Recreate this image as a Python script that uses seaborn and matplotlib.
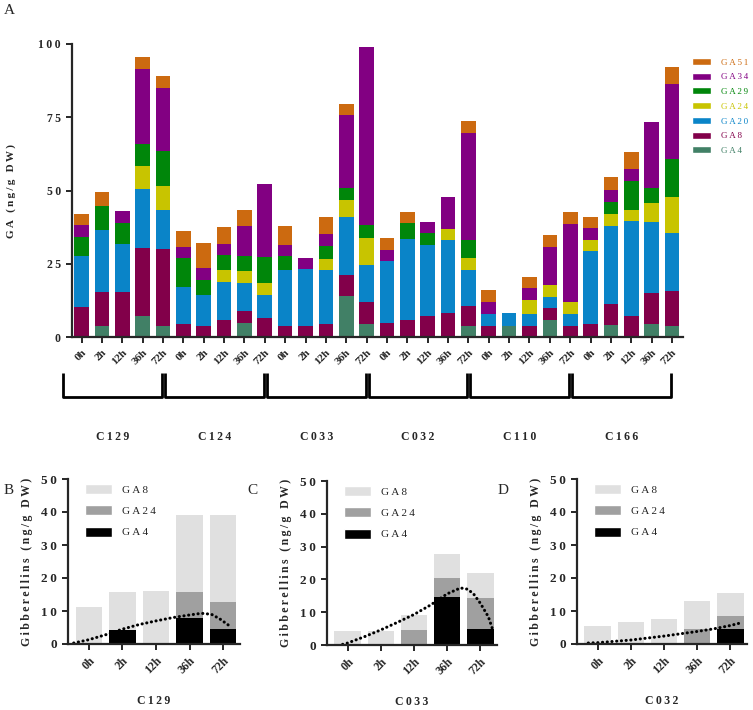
"""Stacked gibberellin content per accession and time point (panel A) plus GA4/GA24/GA8 detail panels (B-D)."""

import numpy as np
import pandas as pd
import matplotlib
matplotlib.use("Agg")
import matplotlib.pyplot as plt
from matplotlib.patches import Patch
from matplotlib.ticker import FixedLocator
import seaborn as sns

# ---- data ----
accessions = ["C129", "C124", "C033", "C032", "C110", "C166"]
times = ["0h", "2h", "12h", "36h", "72h"]
ga_order = ["GA4", "GA8", "GA20", "GA24", "GA29", "GA34", "GA51"]

# panel A, one value per bar (6 accessions x 5 times), ng/g DW
ga4 = [0, 3.8, 0, 7.2, 3.9,   0, 0, 0, 4.8, 0,   0, 0, 0, 13.9, 4.3,
       0, 0, 0, 0, 3.9,       0, 3.9, 0, 5.9, 0,   0, 4.0, 0, 4.5, 3.9]
ga8 = [10.3, 11.4, 15.5, 23.3, 26.3,   4.3, 3.9, 5.7, 4.0, 6.6,   3.8, 3.8, 4.3, 7.3, 7.5,
       4.7, 5.9, 7.0, 8.2, 6.8,        3.9, 0, 3.9, 4.0, 3.9,     4.5, 7.2, 7.1, 10.5, 11.9]
ga20 = [17.5, 21.3, 16.2, 20.1, 13.0,   12.6, 10.5, 13.2, 9.6, 7.8,   19.1, 19.4, 18.4, 19.9, 12.9,
        21.1, 27.4, 24.4, 24.8, 12.1,   4.1, 4.2, 4.1, 3.9, 4.0,      24.8, 26.8, 32.4, 24.2, 19.7]
ga24 = [0, 0, 0, 7.9, 8.4,   0, 0, 4.0, 4.0, 4.0,   0, 0, 4.0, 5.6, 9.1,
        0, 0, 0, 4.0, 4.0,   0, 0, 4.6, 4.0, 4.0,   3.9, 4.1, 4.0, 6.7, 12.3]
ga29 = [6.3, 8.1, 7.3, 7.5, 11.9,   9.9, 4.9, 5.0, 5.1, 9.0,   4.6, 0, 4.5, 4.0, 4.5,
        0, 5.7, 4.0, 0, 6.3,        0, 0, 0, 0, 0,             0, 4.1, 9.9, 4.8, 13.1]
ga34 = [4.0, 0, 4.0, 25.5, 21.6,   4.0, 4.1, 3.8, 10.3, 24.7,   4.0, 3.9, 4.1, 25.0, 60.7,
        4.0, 0, 4.0, 10.7, 36.5,   3.9, 0, 4.0, 13.0, 26.6,     3.9, 4.1, 4.0, 22.7, 25.6]
ga51 = [4.0, 4.9, 0, 4.0, 4.0,   5.5, 8.6, 5.9, 5.4, 0,   6.3, 0, 5.5, 3.9, 0,
        4.0, 3.8, 0, 0, 4.1,     4.1, 0, 4.0, 4.1, 4.0,   4.0, 4.2, 5.7, 0, 5.7]

ga_colors = {
    "GA51": "#cc6a10", "GA34": "#820082", "GA29": "#00860a", "GA24": "#c8c400",
    "GA20": "#0a84c8", "GA8": "#82004a", "GA4": "#418066",
}

# panels B-D: stacked GA4 / GA24 / GA8
detail_names = ["C129", "C033", "C032"]
detail_ga4 = [[0, 4.3, 0, 7.8, 4.4], [0, 0, 0, 14.7, 5.0], [0, 0, 0, 0, 4.5]]
detail_ga24 = [[0, 0, 0, 8.0, 8.4], [0, 0, 4.6, 5.6, 9.3], [0, 0, 0, 4.5, 4.1]]
detail_ga8 = [[11.1, 11.6, 16.2, 23.2, 26.4], [4.4, 4.4, 4.4, 7.3, 7.5], [5.4, 6.6, 7.6, 8.4, 6.9]]
detail_colors = {"GA8": "#e0e0e0", "GA24": "#a0a0a0", "GA4": "#000000"}

# dotted trend curves as drawn (x in bar positions)
trend_x = [
    [-0.45, 0, 0.5, 1, 1.5, 2, 2.5, 3, 3.35, 3.65, 3.9, 4.2],
    [-0.15, 0, 0.5, 1, 1.5, 2, 2.5, 3, 3.4, 3.62, 3.8, 4.0, 4.24, 4.36],
    [-0.28, 0, 1, 2, 3, 3.5, 4, 4.35],
]
trend_y = [
    [0.3, 1.3, 2.8, 4.5, 5.9, 7.0, 8.0, 8.8, 9.3, 9.0, 7.6, 5.4],
    [0.2, 0.6, 2.5, 4.6, 6.9, 9.3, 12.2, 15.6, 17.4, 17.0, 15.5, 12.7, 8.6, 5.0],
    [0.3, 0.4, 1.2, 2.4, 3.8, 4.6, 5.6, 6.5],
]


def spaced(s):
    return "\u2009".join(s)


sns.set_style("ticks")
plt.rcParams["font.family"] = ["Liberation Serif", "DejaVu Serif"]
plt.rcParams["axes.linewidth"] = 1.6

W, H = 753, 710
fig = plt.figure(figsize=(W / 100, H / 100), dpi=100)


def px_axes(left, top, right, bottom):
    return fig.add_axes([left / W, 1 - bottom / H, (right - left) / W, (bottom - top) / H])


# ---- panel A ----
series = {"GA4": ga4, "GA8": ga8, "GA20": ga20, "GA24": ga24,
          "GA29": ga29, "GA34": ga34, "GA51": ga51}
wide = pd.DataFrame(series)
wide["pos"] = np.arange(len(wide))
long = wide.melt(id_vars="pos", value_vars=ga_order, var_name="ga", value_name="value")

ax = px_axes(72, 44, 683, 337)
# seaborn stacks the last hue level at the bottom
sns.histplot(data=long, x="pos", weights="value", hue="ga", hue_order=ga_order[::-1],
             multiple="stack", discrete=True, shrink=0.72, palette=ga_colors,
             alpha=1, linewidth=0, legend=False, ax=ax)
ax.set_xlim(-0.47, len(wide) - 0.46)
ax.set_ylim(0, 100)
sns.despine(ax=ax)
yt = [0, 25, 50, 75, 100]
ax.yaxis.set_major_locator(FixedLocator(yt))
ax.set_yticklabels([spaced(str(v)) for v in yt], fontsize=8.5, fontweight="bold")
ax.set_xticks(wide["pos"])
ax.set_xticklabels(times * len(accessions), rotation=45, ha="right",
                   rotation_mode="anchor", fontsize=8, fontweight="bold")
ax.tick_params(axis="both", length=4, width=1.4, pad=4)
ax.set_xlabel("")
ax.set_ylabel(spaced("GA (ng/g DW)"), fontsize=8, fontweight="bold", labelpad=16)

trans = ax.get_xaxis_transform()
for g, name in enumerate(accessions):
    x0, x1 = 5 * g - 0.9, 5 * g + 3.95
    ax.plot([x0, x0, x1, x1], [-0.123, -0.205, -0.205, -0.123], color="black",
            lw=2, transform=trans, clip_on=False, solid_capstyle="butt")
    ax.text((x0 + x1) / 2, -0.34, spaced(name), transform=trans, ha="center",
            va="center", fontsize=8.5, fontweight="bold")

handles = [Patch(facecolor=ga_colors[k]) for k in ga_order[::-1]]
leg = fig.legend(handles, ga_order[::-1], loc="upper left",
                 bbox_to_anchor=(692 / W, 1 - 58 / H), frameon=False,
                 fontsize=6.5, handlelength=2.1, handleheight=0.8,
                 labelspacing=0.68, handletextpad=1.1, borderpad=0, borderaxespad=0)
for txt, k in zip(leg.get_texts(), ga_order[::-1]):
    txt.set_color(ga_colors[k])
    txt.set_text(spaced(k))

fig.text(9 / W, 1 - 11 / H, "A", fontsize=11, ha="center", va="center")

# ---- panels B-D ----
detail_boxes = [(68, 479, 240, 644), (327, 481, 497, 645), (577, 479, 747, 644)]
detail_letters = [(9, "B"), (252, "C"), (503, "D")]
stack_order = ["GA4", "GA24", "GA8"]

for i, name in enumerate(detail_names):
    d = pd.DataFrame({"pos": np.arange(len(times)), "GA4": detail_ga4[i],
                      "GA24": detail_ga24[i], "GA8": detail_ga8[i]})
    dl = d.melt(id_vars="pos", value_vars=stack_order, var_name="ga", value_name="value")
    bx = px_axes(*detail_boxes[i])
    sns.histplot(data=dl, x="pos", weights="value", hue="ga", hue_order=stack_order[::-1],
                 multiple="stack", discrete=True, shrink=0.79, palette=detail_colors,
                 alpha=1, linewidth=0, legend=False, ax=bx)
    bx.plot(trend_x[i], trend_y[i], color="black", lw=2.2, linestyle=(0, (0.05, 1.5)),
            dash_capstyle="round")
    bx.set_xlim(-0.62, 4.5)
    bx.set_ylim(0, 50)
    sns.despine(ax=bx)
    ticks = [0, 10, 20, 30, 40, 50]
    bx.yaxis.set_major_locator(FixedLocator(ticks))
    bx.set_yticklabels([spaced(str(v)) for v in ticks], fontsize=9.5, fontweight="bold")
    bx.set_xticks(d["pos"])
    bx.set_xticklabels(times, rotation=45, ha="right", rotation_mode="anchor",
                       fontsize=8.5, fontweight="bold")
    bx.tick_params(axis="both", length=4, width=1.4, pad=4)
    bx.set_xlabel(spaced(name), fontsize=8.5, fontweight="bold", labelpad=13)
    bx.set_ylabel(spaced("Gibberellins (ng/g DW)"), fontsize=8.5, fontweight="bold",
                  labelpad=6)

    hs = [Patch(facecolor=detail_colors[k]) for k in stack_order[::-1]]
    lg = bx.legend(hs, [spaced(k) for k in stack_order[::-1]], loc="upper left",
                   bbox_to_anchor=(0.1, 0.97), frameon=False, fontsize=8,
                   handlelength=2.45, handleheight=1.0, labelspacing=0.95,
                   handletextpad=0.9, borderpad=0, borderaxespad=0)

    lx, letter = detail_letters[i]
    fig.text(lx / W, 1 - 491 / H, letter, fontsize=11, ha="center", va="center")

fig.savefig("out.png", dpi=100)
